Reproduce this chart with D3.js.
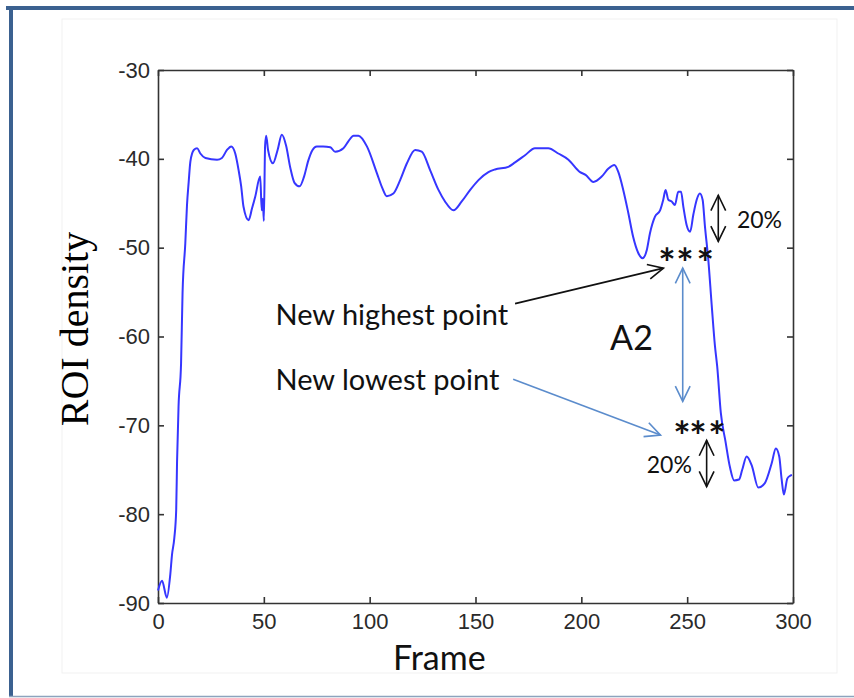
<!DOCTYPE html>
<html>
<head>
<meta charset="utf-8">
<script src="https://cdn.jsdelivr.net/npm/d3@7"></script>
<style>
  body { margin: 0; background: #fff; }
  .tick text { font-family: "Liberation Sans", Arial, sans-serif; font-size: 22px; fill: #2a2a2a; }
  .axis path, .axis line { stroke: #333; stroke-width: 1.6; }
  .note { font-family: Lato, "Open Sans", sans-serif; fill: #111; }
</style>
</head>
<body>
<div id="chart"></div>
<script>
// data
var frames = [0, 1.9, 4.2, 5.8, 6.6, 7.7, 8.6, 9.0, 9.7, 10.9, 11.6, 12.9, 13.7, 14.5, 15.3, 16.9, 18.5, 20, 22.4, 27.9,
  30.2, 32.6, 34.6, 36.5, 38.1, 39.3, 40.4, 42.8, 44.4, 45.9, 48.3, 49.0, 49.5, 50.0, 50.6, 51.1, 52, 54.3, 56.5, 58.5,
  60.5, 62.5, 64.5, 66.9, 69, 71, 73, 75, 78, 81.4, 83.7, 87.6, 90, 92.4, 94.7, 98.7, 103.4, 106, 108.1, 111.2,
  114.4, 117.6, 121.5, 124.6, 128.6, 132.5, 135.6, 139.6, 143.5, 147.5, 151.4, 156.1, 159.2, 165.5, 168.7, 173.4, 178.1, 184.4, 189.1, 193.9,
  199.4, 202, 205.7, 209.6, 212.8, 215.6, 217.5, 219.8, 222.2, 224.5, 226.9, 228.9, 230.9, 232.4, 234.8, 237.2, 238.7, 239.8, 241.1, 242.7,
  244.2, 245.8, 247.1, 248.2, 249.8, 251.4, 252.9, 254.5, 256, 257.3, 258.4, 260, 261.6, 263.1, 264.2, 265.9, 268.1, 270.2, 272.2, 274.5,
  276, 278.1, 280.5, 283.6, 286.7, 289.9, 291.9, 293.5, 294.6, 295.7, 297.3, 298.5, 299.5];
var roiDensity = [-88.6, -87.5, -89.4, -86.8, -84.6, -82.7, -79.5, -74.1, -67.9, -63.0, -55.1, -49.5, -45.2, -42.6, -40.3, -39.0, -38.8, -39.4, -39.9, -40.1,
  -39.9, -39.0, -38.6, -39.4, -41.3, -43.1, -45.4, -46.9, -45.6, -44.3, -42.0, -45.8, -44.5, -47.0, -38.5, -37.4, -39.0, -40.5, -39.0, -37.3,
  -38.5, -41.0, -42.7, -43.1, -42.0, -40.2, -39.0, -38.6, -38.6, -38.7, -39.2, -38.8, -38.0, -37.4, -37.4, -38.6, -41.6, -43.3, -44.2, -43.9,
  -42.4, -40.5, -39.0, -39.2, -41.3, -43.5, -44.8, -45.8, -44.8, -43.5, -42.4, -41.5, -41.2, -40.9, -40.4, -39.6, -38.8, -38.8, -39.4, -40.1,
  -41.5, -41.8, -42.6, -42.0, -41.1, -40.7, -41.5, -43.5, -46.1, -48.8, -50.6, -51.2, -50.3, -48.4, -46.5, -45.8, -44.6, -43.5, -44.6, -44.8,
  -45.2, -43.7, -43.7, -45.4, -47.5, -48.2, -46.3, -44.6, -43.9, -44.6, -47.6, -51.4, -56.5, -61.0, -63.4, -68.6, -71.8, -74.7, -76.2, -76.1,
  -75.0, -73.5, -74.5, -77.0, -76.5, -74.3, -72.6, -73.5, -76.0, -77.8, -76.0, -75.7, -75.6];
var xTicks = [0, 50, 100, 150, 200, 250, 300];
var yTicks = [-90, -80, -70, -60, -50, -40, -30];

var svgWidth = 854, svgHeight = 698;
var margin = {top: 70, right: 61, bottom: 95, left: 158};
var width = svgWidth - margin.left - margin.right;
var height = svgHeight - margin.top - margin.bottom;

var svg = d3.select("#chart").append("svg")
  .attr("width", svgWidth)
  .attr("height", svgHeight);

// slide frame
svg.append("rect").attr("x", 0).attr("y", 0).attr("width", svgWidth).attr("height", svgHeight).attr("fill", "#fff");
svg.append("rect").attr("x", 62).attr("y", 19).attr("width", 775).attr("height", 654)
  .attr("fill", "#fff").attr("stroke", "#f1f1f1");
svg.append("line").attr("x1", 6).attr("x2", svgWidth).attr("y1", 8).attr("y2", 8)
  .attr("stroke", "#3b6190").attr("stroke-width", 4);
svg.append("line").attr("x1", 11).attr("x2", 11).attr("y1", 6).attr("y2", 697)
  .attr("stroke", "#3b6190").attr("stroke-width", 4);
svg.append("line").attr("x1", 9).attr("x2", svgWidth).attr("y1", 696.5).attr("y2", 696.5)
  .attr("stroke", "#8da3bd").attr("stroke-width", 1.5);

var chartGroup = svg.append("g")
  .attr("transform", `translate(${margin.left}, ${margin.top})`);

var x = d3.scaleLinear().domain([0, 300]).range([0, width]);
var y = d3.scaleLinear().domain([-90, -30]).range([height, 0]);
var plain = d => String(d);

chartGroup.append("g").attr("class", "axis")
  .attr("transform", `translate(0, ${height})`)
  .call(d3.axisBottom(x).tickValues(xTicks).tickSizeInner(-6).tickSizeOuter(0).tickPadding(10).tickFormat(plain));
chartGroup.append("g").attr("class", "axis")
  .call(d3.axisTop(x).tickValues(xTicks).tickSizeInner(-6).tickSizeOuter(0).tickFormat(""));
chartGroup.append("g").attr("class", "axis")
  .call(d3.axisLeft(y).tickValues(yTicks).tickSizeInner(-6).tickSizeOuter(0).tickPadding(8).tickFormat(plain));
chartGroup.append("g").attr("class", "axis")
  .attr("transform", `translate(${width}, 0)`)
  .call(d3.axisRight(y).tickValues(yTicks).tickSizeInner(-6).tickSizeOuter(0).tickFormat(""));

var line = d3.line()
  .x((d, i) => x(frames[i]))
  .y(d => y(d))
  .curve(d3.curveMonotoneX);

chartGroup.append("path")
  .datum(roiDensity)
  .attr("d", line)
  .attr("fill", "none")
  .attr("stroke", "#3636ff")
  .attr("stroke-width", 2);

// axis titles
svg.append("text")
  .attr("transform", "translate(88, 329) rotate(-90)")
  .attr("text-anchor", "middle")
  .style("font-family", "'Liberation Serif', 'DejaVu Serif', serif")
  .style("font-size", "40px")
  .text("ROI density");

svg.append("text")
  .attr("class", "note")
  .attr("x", 393).attr("y", 670)
  .style("font-size", "34px")
  .text("Frame");

// annotations
function arrowHead(g, x1, y1, x2, y2, len, color) {
  var a = Math.atan2(y2 - y1, x2 - x1);
  var s = 0.45;
  g.append("path")
    .attr("d", `M${x2 - len * Math.cos(a - s)},${y2 - len * Math.sin(a - s)}L${x2},${y2}L${x2 - len * Math.cos(a + s)},${y2 - len * Math.sin(a + s)}`)
    .attr("fill", "none").attr("stroke", color).attr("stroke-width", 1.6);
}
function arrow(x1, y1, x2, y2, color, both) {
  var g = chartGroup.append("g");
  g.append("line").attr("x1", x1).attr("y1", y1).attr("x2", x2).attr("y2", y2)
    .attr("stroke", color).attr("stroke-width", 1.6);
  arrowHead(g, x1, y1, x2, y2, 17, color);
  if (both) arrowHead(g, x2, y2, x1, y1, 17, color);
}

arrow(x(168.7), y(-56.3), x(238.8), y(-52.3), "#111", false);
arrow(x(167.8), y(-64.8), x(237.4), y(-71.1), "#5b8ccc", false);
arrow(x(247.9), y(-52.3), x(247.9), y(-67.3), "#5b8ccc", true);
arrow(x(264.7), y(-44.1), x(264.7), y(-49.3), "#111", true);
arrow(x(259.2), y(-71.7), x(259.2), y(-76.9), "#111", true);

function note(fx, fy, txt, size) {
  chartGroup.append("text").attr("class", "note")
    .attr("x", x(fx)).attr("y", y(fy))
    .style("font-size", size + "px")
    .text(txt);
}
note(55.5, -58.7, "New highest point", 29);
note(55.5, -66.0, "New lowest point", 29);
note(213.6, -61.5, "A2", 34);
note(273.5, -47.8, "20%", 23);
note(230.9, -75.4, "20%", 23);

var upperStars = [240.5, 249.0, 258.5];
var lowerStars = [247.6, 255.1, 264.1];
function stars(list, fy) {
  var t = chartGroup.append("text")
    .attr("class", "note")
    .attr("text-anchor", "middle")
    .attr("y", y(fy) + 23)
    .style("font-size", "41px")
    .style("font-weight", "bold");
  t.selectAll("tspan").data(list).enter().append("tspan")
    .attr("x", d => x(d))
    .text("*");
}
stars(upperStars, -50.8);
stars(lowerStars, -70.3);
</script>
</body>
</html>
